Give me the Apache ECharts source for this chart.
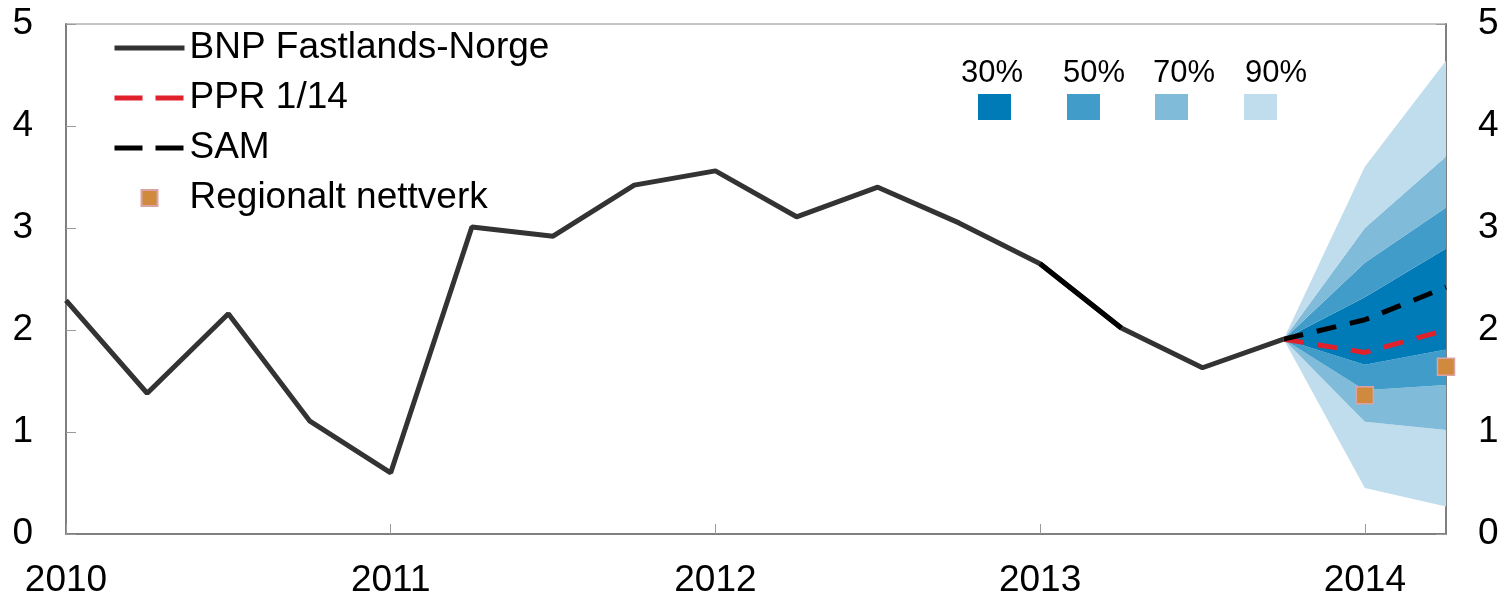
<!DOCTYPE html>
<html>
<head>
<meta charset="utf-8">
<script src="https://cdn.jsdelivr.net/npm/echarts@6/dist/echarts.min.js"></script>
<style>
  html, body { margin: 0; padding: 0; background: #fff; }
  #chart { width: 1499px; height: 594px; }
</style>
</head>
<body>
<div id="chart"></div>
<script>
// kvartaler 2010K1 - 2014K2
var quarters = ['2010K1','2010K2','2010K3','2010K4','2011K1','2011K2','2011K3','2011K4',
  '2012K1','2012K2','2012K3','2012K4','2013K1','2013K2','2013K3','2013K4','2014K1','2014K2'];

var bnp = [2.29, 1.38, 2.16, 1.11, 0.60, 3.01, 2.92, 3.42,
  3.56, 3.11, 3.40, 3.05, 2.65, 2.02, 1.63, 1.91, null, null];

// prognoser fra 2013K4
var fanStart = 15;
var ppr = [1.91, 1.78, 2.00];
var sam = [1.91, 2.10, 2.42];
var regional = [null, 1.36, 1.64];

// usikkerhetsvifte (nedre / ovre grenser)
var lo90 = [1.91, 0.45, 0.27];
var lo70 = [1.91, 1.10, 1.02];
var lo50 = [1.91, 1.41, 1.46];
var lo30 = [1.91, 1.66, 1.81];
var hi30 = [1.91, 2.32, 2.80];
var hi50 = [1.91, 2.66, 3.20];
var hi70 = [1.91, 3.00, 3.70];
var hi90 = [1.91, 3.60, 4.64];

var bandLabels = ['30%', '50%', '70%', '90%'];
var bandColors = ['#007bb7', '#419cc9', '#80bbd9', '#c0dded'];

var fontFam = '"Liberation Sans", Arial, sans-serif';

function pad(arr) {
    var out = [];
    for (var i = 0; i < quarters.length; i++) {
        var j = i - fanStart;
        out.push(j >= 0 && j < arr.length ? arr[j] : null);
    }
    return out;
}
function diff(a, b) {
    var out = [];
    for (var i = 0; i < a.length; i++) out.push(+(a[i] - b[i]).toFixed(3));
    return out;
}

var series = [];
// base for stabel
series.push({
    name: 'base', type: 'line', stack: 'fan', data: pad(lo90),
    symbol: 'none', lineStyle: { width: 0 }, silent: true, z: 1
});
var bandDefs = [
    [lo70, lo90, bandColors[3]],
    [lo50, lo70, bandColors[2]],
    [lo30, lo50, bandColors[1]],
    [hi30, lo30, bandColors[0]],
    [hi50, hi30, bandColors[1]],
    [hi70, hi50, bandColors[2]],
    [hi90, hi70, bandColors[3]]
];
for (var k = 0; k < bandDefs.length; k++) {
    series.push({
        name: 'band' + k, type: 'line', stack: 'fan', data: pad(diff(bandDefs[k][0], bandDefs[k][1])),
        symbol: 'none', lineStyle: { width: 0 }, silent: true, z: 1,
        areaStyle: { color: bandDefs[k][2], opacity: 1 }
    });
}

series.push({
    name: 'BNP Fastlands-Norge', type: 'line', data: bnp,
    symbol: 'none', z: 5, color: '#333333',
    lineStyle: { color: '#333333', width: 5 }
});
// 2013K1-K2 er tegnet svart i originalen
series.push({
    name: 'bnpSort', type: 'line', silent: true,
    data: bnp.map(function (v, i) { return (i === 12 || i === 13) ? v : null; }),
    symbol: 'none', z: 5, lineStyle: { color: '#000000', width: 5 }
});
series.push({
    name: 'PPR 1/14', type: 'line', data: pad(ppr),
    symbol: 'none', z: 6, color: '#e0202a',
    lineStyle: { color: '#e0202a', width: 5, type: [20, 14] }
});
series.push({
    name: 'SAM', type: 'line', data: pad(sam),
    symbol: 'none', z: 7, color: '#000000',
    lineStyle: { color: '#000000', width: 5, type: [20, 14] }
});
series.push({
    name: 'Regionalt nettverk', type: 'line', data: pad(regional),
    symbol: 'rect', symbolSize: 17, showSymbol: true, z: 8,
    color: '#cf8a3e',
    itemStyle: { color: '#cf8a3e', borderColor: '#dba3a3', borderWidth: 1.5 },
    lineStyle: { width: 0, opacity: 0 }
});

// vifte-legende
var graphics = [];
var swX = [978, 1067, 1155, 1244];
var lblX = [961, 1063, 1153, 1245];
for (var g = 0; g < bandLabels.length; g++) {
    graphics.push({
        type: 'text', x: lblX[g], y: 73,
        style: { text: bandLabels[g], font: '31px ' + fontFam, fill: '#000',
            textAlign: 'left', textVerticalAlign: 'middle' }
    });
    graphics.push({
        type: 'rect', shape: { x: swX[g], y: 94, width: 33, height: 26 },
        style: { fill: bandColors[g] }
    });
}

var noDot = { opacity: 0 };
var option = {
    animation: false,
    backgroundColor: '#fff',
    textStyle: { fontFamily: fontFam },
    grid: { left: 66, right: 53, top: 24, bottom: 60, outerBoundsMode: 'none', containLabel: false,
        show: true, borderColor: '#8a8a8a', borderWidth: 1 },
    legend: {
        data: [
            { name: 'BNP Fastlands-Norge', itemStyle: noDot, lineStyle: { width: 5, type: 'solid' } },
            { name: 'PPR 1/14', itemStyle: noDot, lineStyle: { width: 5, type: [28, 13] } },
            { name: 'SAM', itemStyle: noDot, lineStyle: { width: 5, type: [28, 13] } },
            { name: 'Regionalt nettverk', lineStyle: { width: 0, opacity: 0 } }
        ],
        orient: 'vertical', left: 112, top: 27, padding: 0,
        itemWidth: 70, itemHeight: 20, itemGap: 8,
        textStyle: { fontSize: 37, color: '#000', fontFamily: fontFam, lineHeight: 42 },
        selectedMode: false
    },
    xAxis: {
        type: 'category', data: quarters, boundaryGap: false,
        axisLine: { lineStyle: { color: '#7f7f7f', width: 2 } },
        axisTick: { inside: true, length: 10, lineStyle: { color: '#9a9a9a' },
            interval: function (i) { return i % 4 === 0; } },
        axisLabel: { fontSize: 37, color: '#000', margin: 28,
            interval: function (i) { return i % 4 === 0; },
            formatter: function (v) { return v.slice(0, 4); } },
        splitLine: { show: false }
    },
    yAxis: [{
        type: 'value', min: 0, max: 5, interval: 1, position: 'left',
        axisLine: { show: true, lineStyle: { color: '#7f7f7f', width: 2 } },
        axisTick: { show: true, inside: true, length: 10, lineStyle: { color: '#9a9a9a' } },
        axisLabel: { fontSize: 37, color: '#000', margin: 33 },
        splitLine: { show: false }
    }, {
        type: 'value', min: 0, max: 5, interval: 1, position: 'right',
        axisLine: { show: true, lineStyle: { color: '#7f7f7f', width: 2 } },
        axisTick: { show: true, inside: true, length: 10, lineStyle: { color: '#9a9a9a' } },
        axisLabel: { fontSize: 37, color: '#000', margin: 32 },
        splitLine: { show: false }
    }],
    graphic: graphics,
    series: series
};

var myChart = echarts.init(document.getElementById('chart'));
myChart.setOption(option);
</script>
</body>
</html>
